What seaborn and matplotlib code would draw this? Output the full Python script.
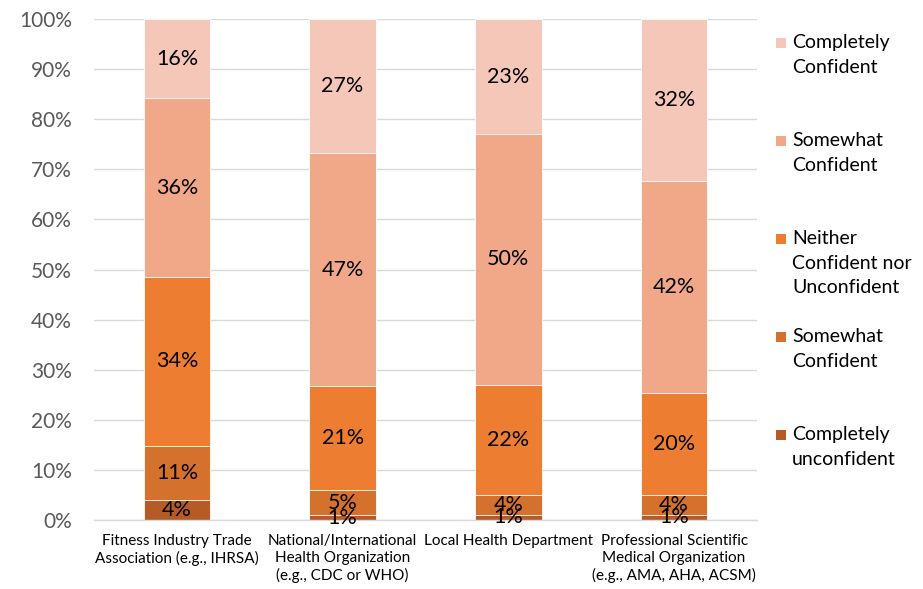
import numpy as np
import pandas as pd
import matplotlib
matplotlib.use("Agg")
import matplotlib.pyplot as plt
from matplotlib.patches import Rectangle
import seaborn as sns

# Survey data: share of respondents by confidence level for each source
categories = [
    "Fitness Industry Trade\nAssociation (e.g., IHRSA)",
    "National/International\nHealth Organization\n(e.g., CDC or WHO)",
    "Local Health Department",
    "Professional Scientific\nMedical Organization\n(e.g., AMA, AHA, ACSM)",
]
# bottom-to-top stacking order
levels = [
    "Completely\nunconfident",
    "Somewhat\nConfident",
    "Neither\nConfident nor\nUnconfident",
    "Somewhat\nConfident",
    "Completely\nConfident",
]
completely_unconfident = [4, 1, 1, 1]
somewhat_unconfident = [11, 5, 4, 4]
neither = [34, 21, 22, 20]
somewhat_confident = [36, 47, 50, 42]
completely_confident = [16, 27, 23, 32]
yticks = [0, 10, 20, 30, 40, 50, 60, 70, 80, 90, 100]

colors = ["#B65B25", "#D4712C", "#ED7D31", "#F0A889", "#F4C7B8"]

series = [completely_unconfident, somewhat_unconfident, neither,
          somewhat_confident, completely_confident]
raw = np.array(series, dtype=float)          # shape (levels, categories)
share = raw / raw.sum(axis=0) * 100          # 100% stacked
tops = np.cumsum(share, axis=0)
bottoms = tops - share

sns.set_theme(style="white")
plt.rcParams["font.family"] = ["Lato", "DejaVu Sans"]

fig = plt.figure(figsize=(9.23, 5.89), dpi=100)
ax = fig.add_axes([94 / 923, 1 - 520 / 589, (757 - 94) / 923, (520 - 19) / 589])

# Draw cumulative tops from the highest down so each layer covers the next
for i in range(len(levels) - 1, -1, -1):
    df = pd.DataFrame({"cat": categories, "top": tops[i]})
    sns.barplot(data=df, x="cat", y="top", color=colors[i], width=0.4,
                edgecolor="white", linewidth=0.6, ax=ax, zorder=2,
                saturation=1)

# Segment value labels
for i in range(len(levels)):
    for j in range(len(categories)):
        ax.text(j, (bottoms[i, j] + tops[i, j]) / 2, f"{series[i][j]}%",
                ha="center", va="center", fontsize=15.5, color="black",
                zorder=5)

ax.set_ylim(0, 100)
ax.set_xlim(-0.5, len(categories) - 0.5)
ax.set_yticks(yticks)
ax.set_yticklabels([f"{t}%" for t in yticks])
ax.set_xlabel("")
ax.set_ylabel("")
ax.yaxis.grid(True, color="#D9D9D9", linewidth=1.0, zorder=0)
ax.set_axisbelow(True)
for side in ["top", "right", "left"]:
    ax.spines[side].set_visible(False)
ax.spines["bottom"].set_color("#D9D9D9")
ax.spines["bottom"].set_linewidth(1.0)
ax.tick_params(axis="y", length=0, pad=16, labelsize=15, labelcolor="#595959")
ax.tick_params(axis="x", length=0, pad=10, labelsize=11, labelcolor="black")
for lab in ax.get_xticklabels():
    lab.set_linespacing(1.28)
    lab.set_verticalalignment("top")

# Legend, top entry first, evenly spaced down the right side
legend_order = list(range(len(levels) - 1, -1, -1))
y0, step = 43, 98
for k, i in enumerate(legend_order):
    yc = y0 + k * step
    fig.patches.append(Rectangle((776 / 923, 1 - (yc + 5) / 589), 10 / 923, 10 / 589,
                                 transform=fig.transFigure, facecolor=colors[i],
                                 edgecolor="none", figure=fig))
    fig.text(792 / 923, 1 - (yc - 9) / 589, levels[i], ha="left", va="top",
             fontsize=14, color="black", linespacing=1.55)

fig.savefig("out.png", dpi=100)
